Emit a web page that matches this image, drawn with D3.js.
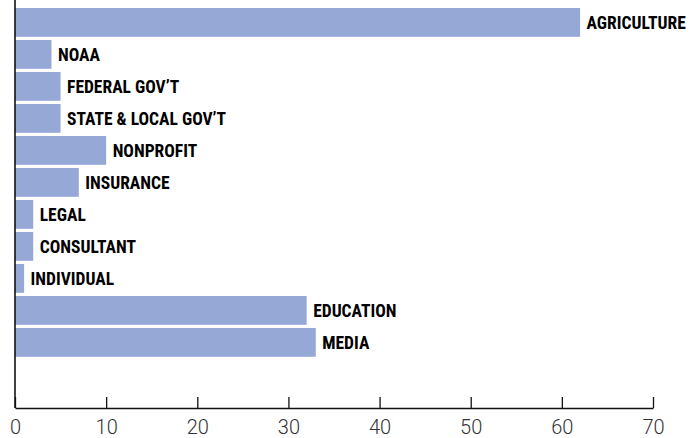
<!DOCTYPE html>
<html>
<head>
  <meta charset="utf-8">
  <title>Horizontal Bars</title>
  <script src="https://cdnjs.cloudflare.com/ajax/libs/d3/7.8.5/d3.min.js"></script>
  <style>
    body { margin: 0; background: #fff; }
  </style>
</head>
<body>
<div id='chart'></div>
<script type="text/javascript">

var categories = ['AGRICULTURE', 'NOAA', "FEDERAL GOV\u2019T", "STATE & LOCAL GOV\u2019T", 'NONPROFIT',
                  'INSURANCE', 'LEGAL', 'CONSULTANT', 'INDIVIDUAL', 'EDUCATION', 'MEDIA'];
var values = [62, 4, 5, 5, 10, 7, 2, 2, 1, 32, 33];
var ticks = [0, 10, 20, 30, 40, 50, 60, 70];

var data = categories.map(function(c, i) { return {name: c, value: values[i]}; });

var svg = d3.select('#chart').append('svg')
            .attr('width', 700)
            .attr('height', 438);

var x = d3.scaleLinear().domain([0, 70]).range([15, 653]);

var y = d3.scaleBand()
          .domain(categories)
          .range([6.4, 358.4])
          .paddingInner(0.1)
          .paddingOuter(0.05);

var axisY = 408;

// bars
svg.selectAll('rect.bar')
   .data(data)
   .enter()
   .append('rect')
   .attr('class', 'bar')
   .attr('x', x(0))
   .attr('y', function(d) { return y(d.name); })
   .attr('width', function(d) { return x(d.value) - x(0); })
   .attr('height', y.bandwidth())
   .attr('fill', '#96a8d6');

// labels at bar ends
svg.selectAll('text.lbl')
   .data(data)
   .enter()
   .append('text')
   .attr('class', 'lbl')
   .attr('x', function(d) { return x(d.value) + 6.5; })
   .attr('y', function(d) { return y(d.name) + y.bandwidth() / 2; })
   .attr('dy', '0.36em')
   .style('font-family', '"Liberation Sans Narrow", "Arial Narrow", "Roboto Condensed", sans-serif')
   .style('font-weight', 'bold')
   .style('font-size', '17.5px')
   .attr('fill', '#000')
   .text(function(d) { return d.name; });

// bottom axis, ticks pointing up
var xAxis = d3.axisBottom(x)
              .tickValues(ticks)
              .tickSizeInner(-11)
              .tickSizeOuter(0)
              .tickPadding(12);

var gx = svg.append('g')
            .attr('transform', 'translate(0,' + axisY + ')')
            .call(xAxis);

gx.select('.domain').attr('stroke', '#111').attr('stroke-width', 1.6);
gx.selectAll('.tick line').attr('stroke', '#111').attr('stroke-width', 1.3);
gx.selectAll('.tick text')
  .attr('fill', '#333')
  .style('font-family', 'Roboto, "Liberation Sans", sans-serif')
  .style('font-weight', 300)
  .style('font-size', '20px');

// left vertical line
svg.append('line')
   .attr('x1', x(0)).attr('x2', x(0))
   .attr('y1', 0).attr('y2', axisY)
   .attr('stroke', '#111')
   .attr('stroke-width', 1.6);

</script>
</body>
</html>
